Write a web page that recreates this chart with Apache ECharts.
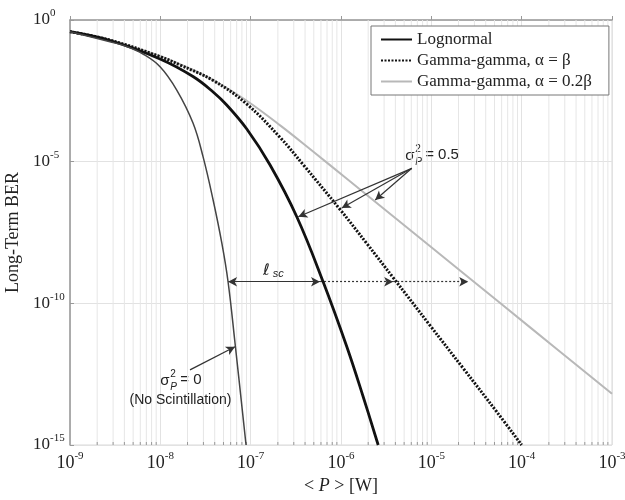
<!DOCTYPE html>
<html>
<head>
<meta charset="utf-8">
<script src="https://cdn.jsdelivr.net/npm/echarts@6.0.0/dist/echarts.min.js"></script>
<style>
html, body { margin: 0; padding: 0; background: #fff; }
#main { width: 625px; height: 500px; }
</style>
</head>
<body>
<div id="main"></div>
<script>
// values: <P> in W, BER
var pNoScint = [1e-9, 2.77e-9, 4.25e-9, 6.43e-9, 9.93e-9, 1.52e-8, 2.30e-8, 2.97e-8, 3.84e-8, 4.79e-8, 5.62e-8, 6.71e-8, 8.89e-8];
var berNoScint = [0.386, 0.171, 0.116, 6.31e-2, 2.25e-2, 3.38e-3, 2.31e-4, 1.50e-5, 4.43e-7, 1.35e-8, 5.79e-10, 3.97e-12, 1.0e-15];

var pLogn = [1e-9, 2.77e-9, 9.93e-9, 2.30e-8, 3.84e-8, 5.43e-8, 9.06e-8, 1.64e-7, 3.24e-7, 6.34e-7, 1.16e-6, 1.76e-6, 2.58e-6];
var berLogn = [0.386, 0.189, 4.20e-2, 1.01e-2, 2.88e-3, 1.0e-3, 1.42e-4, 7.62e-6, 1.14e-7, 5.79e-10, 2.94e-12, 5.04e-14, 1.0e-15];

var pGG1 = [1e-9, 2.77e-9, 9.93e-9, 1.65e-8, 3.86e-8, 9.06e-8, 2.12e-7, 3.84e-7, 9.77e-7, 1.93e-6, 3.78e-6, 9.70e-6, 2.25e-5, 5.31e-5, 1.0e-4];
var berGG1 = [0.386, 0.195, 5.11e-2, 2.58e-2, 7.31e-3, 1.08e-3, 7.13e-5, 7.62e-6, 2.05e-7, 1.29e-8, 8.07e-10, 1.64e-11, 5.12e-13, 1.47e-14, 1.0e-15];

var pGG2 = [1e-9, 2.77e-9, 9.93e-9, 2.30e-8, 4.58e-8, 9.06e-8, 2.12e-7, 4.91e-7, 1.16e-6, 2.71e-6, 9.70e-6, 2.69e-5, 1.24e-4, 1e-3];
var berGG2 = [0.386, 0.195, 5.32e-2, 1.72e-2, 5.51e-3, 1.41e-3, 1.91e-4, 2.28e-5, 2.48e-6, 2.77e-7, 1.03e-8, 7.38e-10, 1.42e-11, 6.44e-14];

var legendNames = ['Lognormal', 'Gamma-gamma, α = β', 'Gamma-gamma, α = 0.2β'];

// annotation arrows [P, BER] -> [P, BER]
var arrSigma05 = [
    [[6.08e-6, 5.82e-6], [3.37e-7, 1.14e-7]],
    [[6.08e-6, 5.82e-6], [1.02e-6, 2.31e-7]],
    [[6.08e-6, 5.82e-6], [2.39e-6, 4.43e-7]]
];
var arrSigma0 = [[2.13e-8, 4.47e-13], [6.71e-8, 2.95e-12]];
var lscY = 5.79e-10;
var lscX = [5.62e-8, 5.86e-7, 3.78e-6, 2.56e-5];

var chart = echarts.init(document.getElementById('main'));

function toLog(ps, bs) {
    return ps.map(function (p, i) { return [Math.log10(p), Math.log10(bs[i])]; });
}
function c(pt) { return {coord: [Math.log10(pt[0]), Math.log10(pt[1])]}; }

// minor vertical grid at 2..9 per decade
var minorX = [];
for (var e = -9; e < -3; e++) {
    for (var k = 2; k <= 9; k++) minorX.push([e + Math.log10(k), -15]);
}

var serif = 'Liberation Serif';
var sans = 'Liberation Sans';
function expRich(size) {
    return {
        b: {fontSize: size, fontFamily: serif, color: '#222'},
        s: {fontSize: 11, fontFamily: serif, color: '#222', padding: [0, 0, 13, 0]}
    };
}
function expLabel(v) { return '{b|10}{s|' + v + '}'; }

var arrowLines = arrSigma05.map(function (a) { return [c(a[0]), c(a[1])]; });
arrowLines.push([c(arrSigma0[0]), c(arrSigma0[1])]);
var lscLine = [c([lscX[0], lscY]), c([lscX[1], lscY])];
lscLine[0].symbol = 'arrow';
arrowLines.push(lscLine);

var option = {
    animation: false,
    textStyle: {fontFamily: serif},
    grid: {
        left: 70, right: 13, top: 20, bottom: 55,
        outerBoundsMode: 'none', containLabel: false,
        show: true, borderColor: '#d8d8d8', borderWidth: 1
    },
    legend: {
        data: legendNames,
        orient: 'vertical',
        left: 371, top: 26,
        padding: [5, 17, 5, 9],
        itemGap: 4,
        itemWidth: 31, itemHeight: 14,
        itemStyle: {opacity: 0},
        borderColor: '#777', borderWidth: 1,
        backgroundColor: '#fff',
        textStyle: {fontFamily: serif, fontSize: 17, color: '#222'}
    },
    xAxis: {
        type: 'value', min: -9, max: -3, interval: 1,
        name: '{a|< }{i|P}{a| > [W]}',
        nameLocation: 'middle', nameGap: 32,
        nameTextStyle: {rich: {a: {fontSize: 18, fontFamily: serif, color: '#222'}, i: {fontSize: 18, fontFamily: serif, fontStyle: 'italic', color: '#222'}}},
        axisLine: {lineStyle: {color: '#999', width: 1.5}},
        axisTick: {show: true, inside: true, length: 4, lineStyle: {color: '#999'}},
        splitLine: {show: true, lineStyle: {color: '#e2e2e2'}},
        axisLabel: {formatter: expLabel, rich: expRich(18), margin: 6}
    },
    yAxis: {
        type: 'value', min: -15, max: 0, interval: 5,
        name: 'Long-Term BER',
        nameLocation: 'middle', nameGap: 45,
        nameTextStyle: {fontSize: 18, fontFamily: serif, color: '#222'},
        axisLine: {lineStyle: {color: '#999', width: 1.5}},
        axisTick: {show: true, inside: true, length: 4, lineStyle: {color: '#999'}},
        splitLine: {show: true, lineStyle: {color: '#e2e2e2'}},
        axisLabel: {formatter: expLabel, rich: expRich(17), align: 'left', margin: 37}
    },
    series: [
        {
            type: 'custom', name: 'minor', silent: true, z: 1,
            data: minorX,
            renderItem: function (params, api) {
                var x = api.coord([api.value(0), -15])[0];
                var cs = params.coordSys;
                var bot = cs.y + cs.height;
                return {
                    type: 'group',
                    children: [
                        {type: 'line', shape: {x1: x, y1: cs.y, x2: x, y2: bot}, style: {stroke: '#e6e6e6', lineWidth: 1}},
                        {type: 'line', shape: {x1: x, y1: bot, x2: x, y2: bot - 3}, style: {stroke: '#999', lineWidth: 1}}
                    ]
                };
            }
        },
        {
            name: legendNames[2], type: 'line', z: 3, symbol: 'none', smooth: 0.4,
            lineStyle: {color: '#b8b8b8', width: 2},
            itemStyle: {color: '#b8b8b8'},
            data: toLog(pGG2, berGG2)
        },
        {
            name: legendNames[1], type: 'line', z: 4, symbol: 'none', smooth: 0.4,
            lineStyle: {color: '#111', width: 3, type: [2, 1.5]},
            itemStyle: {color: '#111'},
            data: toLog(pGG1, berGG1)
        },
        {
            name: legendNames[0], type: 'line', z: 5, symbol: 'none', smooth: 0.4,
            lineStyle: {color: '#111', width: 2.8},
            itemStyle: {color: '#111'},
            data: toLog(pLogn, berLogn)
        },
        {
            name: 'No Scintillation', type: 'line', z: 5, symbol: 'none', smooth: 0.4,
            lineStyle: {color: '#444', width: 1.5},
            data: toLog(pNoScint, berNoScint)
        },
        {
            name: 'arrows', type: 'line', data: [], z: 6,
            markLine: {
                silent: true, symbol: ['none', 'arrow'], symbolSize: [7, 9],
                label: {show: false},
                lineStyle: {color: '#333', width: 1.2, type: 'solid'},
                emphasis: {disabled: true},
                data: arrowLines
            }
        },
        {
            name: 'arrowsDotted', type: 'line', data: [], z: 6,
            markLine: {
                silent: true, symbol: ['none', 'arrow'], symbolSize: [7, 9],
                label: {show: false},
                lineStyle: {color: '#333', width: 1.2, type: [2, 2]},
                emphasis: {disabled: true},
                data: [
                    [c([lscX[1], lscY]), c([lscX[2], lscY])],
                    [c([lscX[2], lscY]), c([lscX[3], lscY])]
                ]
            }
        }
    ]
};
chart.setOption(option);

// text annotations placed from data coordinates
function px(p, b) { return chart.convertToPixel({gridIndex: 0}, [Math.log10(p), Math.log10(b)]); }
function sigmaLabel(p, b, val) {
    var pt = px(p, b);
    var st = {fontFamily: sans, fill: '#222'};
    return {
        type: 'group', x: pt[0], y: pt[1], z: 10,
        children: [
            {type: 'text', x: 0, y: 1, style: Object.assign({text: 'σ', fontSize: 15, verticalAlign: 'middle'}, st)},
            {type: 'text', x: 10, y: -6, style: Object.assign({text: '2', fontSize: 10, verticalAlign: 'middle'}, st)},
            {type: 'text', x: 10, y: 7, style: Object.assign({text: 'P', fontSize: 10, fontStyle: 'italic', verticalAlign: 'middle'}, st)},
            {type: 'text', x: 20, y: 0, style: Object.assign({text: '= ' + val, fontSize: 15, verticalAlign: 'middle'}, st)}
        ]
    };
}
var lscPt = px(1.96e-7, 1.38e-9);
var nsPt = px(1.67e-8, 3.87e-14);
chart.setOption({
    graphic: [
        sigmaLabel(5.13e-6, 1.7e-5, '0.5'),
        sigmaLabel(1.0e-8, 2.0e-13, '0'),
        {
            type: 'text', x: nsPt[0], y: nsPt[1], z: 10,
            style: {text: '(No Scintillation)', fontFamily: sans, fontSize: 14, fill: '#222', align: 'center', verticalAlign: 'middle'}
        },
        {
            type: 'text', x: lscPt[0] - 14, y: lscPt[1], z: 10,
            style: {
                text: '{l|ℓ}{s| sc}', fontFamily: sans, fill: '#222', verticalAlign: 'middle',
                rich: {
                    l: {fontSize: 16, fontStyle: 'italic', fontFamily: 'DejaVu Sans'},
                    s: {fontSize: 11, fontStyle: 'italic', fontFamily: sans, padding: [6, 0, 0, 0]}
                }
            }
        }
    ]
});
</script>
</body>
</html>
